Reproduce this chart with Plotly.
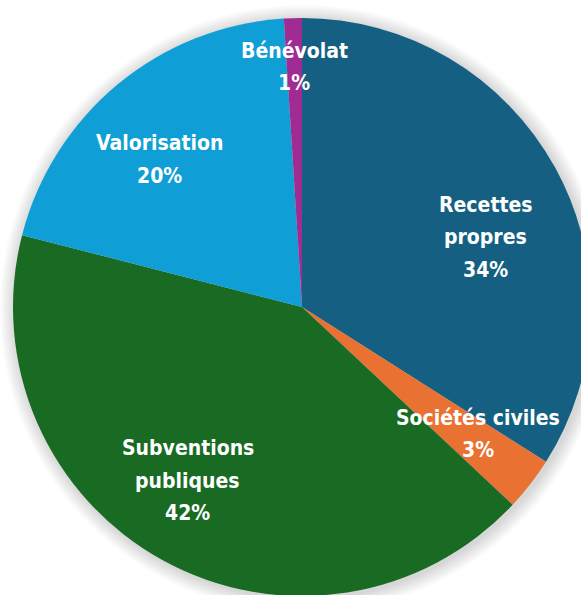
import math
import plotly.graph_objects as go

# ---- data ----
labels = ["Recettes propres", "Sociétés civiles", "Subventions publiques", "Valorisation", "Bénévolat"]
values = [34, 3, 42, 20, 1]
label_lines = [["Recettes", "propres"], ["Sociétés civiles"], ["Subventions", "publiques"], ["Valorisation"], ["Bénévolat"]]
pct_text = ["34%", "3%", "42%", "20%", "1%"]

# ---- style ----
colors = ["#156082", "#E97132", "#196B24", "#0F9ED5", "#A02B93"]
label_radius = [0.68, 0.75, 0.72, 0.71, 0.83]       # fraction of pie radius
label_angle_nudge = [8, -2, 4.5, -4.4, 0]             # degrees from slice mid-angle
FONT = "Liberation Sans Narrow, DejaVu Sans Condensed, Roboto Condensed, Arial Narrow, sans-serif"
FS = 21
LINE = 32.5

W, H = 600, 600
CX, CY, R = 302, 307, 289   # pixel geometry of the pie

fig = go.Figure(go.Pie(
    labels=labels, values=values, sort=False, direction="clockwise", rotation=0,
    marker=dict(colors=colors, line=dict(width=0)),
    textinfo="none", hoverinfo="label+percent", showlegend=False,
    domain=dict(x=[(CX - R) / W, (CX + R) / W], y=[1 - (CY + R) / H, 1 - (CY - R) / H]),
))

# soft shadow behind the pie
shapes = []
for k in range(1, 11):
    rr = R + k * 1.5
    shapes.append(dict(type="circle", xref="paper", yref="paper", layer="below",
                       x0=(CX + 2 - rr) / W, x1=(CX + 2 + rr) / W,
                       y0=1 - (CY + 2 - rr) / H, y1=1 - (CY + 2 + rr) / H,
                       fillcolor="rgba(0,0,0,0.014)", line=dict(width=0)))

annotations = []
total = sum(values)
cum = 0
for i, v in enumerate(values):
    mid = (cum + v / 2) / total * 360 + label_angle_nudge[i]
    cum += v
    a = math.radians(mid)
    px = CX + label_radius[i] * R * math.sin(a)
    py = CY - label_radius[i] * R * math.cos(a)
    lines = label_lines[i] + [pct_text[i]]
    n = len(lines)
    for j, t in enumerate(lines):
        dy = (j - (n - 1) / 2) * LINE
        annotations.append(dict(x=px / W, y=1 - (py + dy) / H, xref="paper", yref="paper",
                                text="<b>%s</b>" % t, showarrow=False,
                                font=dict(family=FONT, size=FS, color="white"),
                                xanchor="center", yanchor="middle"))

fig.update_layout(width=W, height=H, margin=dict(l=0, r=0, t=0, b=0),
                  paper_bgcolor="white", plot_bgcolor="white",
                  shapes=shapes, annotations=annotations)

fig.write_html("out.html", config={"displayModeBar": False},
               post_script="document.body.style.margin='0';document.body.style.overflow='hidden';")
